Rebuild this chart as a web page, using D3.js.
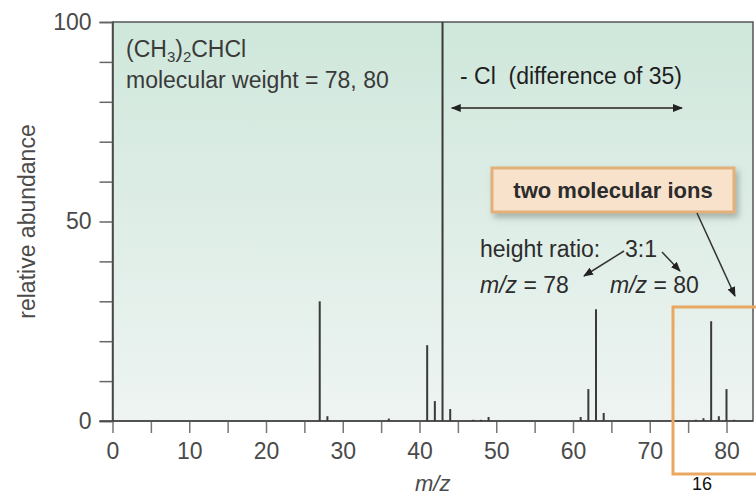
<!DOCTYPE html>
<html>
<head>
<meta charset="utf-8">
<script src="https://cdn.jsdelivr.net/npm/d3@7"></script>
<style>
  body { margin: 0; background: #fff; }
  svg text { font-family: "Liberation Sans", Arial, sans-serif; }
</style>
</head>
<body>
<div id="chart"></div>
<script>
// mass spectrum of 2-chloropropane
const mz        = [27, 28,  36, 41, 42, 43,  44, 47,  48,  49, 61, 62, 63, 64, 76,  77,  78, 79,  80, 81];
const abundance = [30, 1.2, 0.6, 19, 5,  100, 3,  0.3, 0.3, 1,  1,  8,  28, 2,  0.3, 0.7, 25, 1.2, 8,  0.3];

const xTicks = d3.range(0, 81, 5);
const xTickLabels = [0, 10, 20, 30, 40, 50, 60, 70, 80];
const yTicks = d3.range(0, 101, 10);
const yTickLabels = [0, 50, 100];

const width = 756, height = 496;

const svg = d3.select("#chart")
  .append("svg")
  .attr("width", width)
  .attr("height", height);

const x = d3.scaleLinear().domain([0, 80]).range([112.5, 726.5]);
const y = d3.scaleLinear().domain([0, 100]).range([421, 22]);
const plotRight = 753;

const defs = svg.append("defs");
const grad = defs.append("linearGradient")
  .attr("id", "bg").attr("x1", 0).attr("y1", 0).attr("x2", 0).attr("y2", 1);
grad.append("stop").attr("offset", "0%").attr("stop-color", "#cfe7db");
grad.append("stop").attr("offset", "100%").attr("stop-color", "#eef4f2");

defs.append("marker")
  .attr("id", "head").attr("viewBox", "0 0 10 10")
  .attr("refX", 9).attr("refY", 5)
  .attr("markerWidth", 10).attr("markerHeight", 10)
  .attr("markerUnits", "userSpaceOnUse")
  .attr("orient", "auto-start-reverse")
  .append("path").attr("d", "M0,1 L10,5 L0,9 Z").attr("fill", "#222");

const shadow = defs.append("filter").attr("id", "shadow")
  .attr("x", "-10%").attr("y", "-20%").attr("width", "130%").attr("height", "160%");
shadow.append("feDropShadow")
  .attr("dx", 3).attr("dy", 4).attr("stdDeviation", 3)
  .attr("flood-color", "#6d7f78").attr("flood-opacity", 0.55);

// plot background
svg.append("rect")
  .attr("x", x(0)).attr("y", y(100))
  .attr("width", plotRight - x(0)).attr("height", y(0) - y(100))
  .attr("fill", "url(#bg)")
  .attr("stroke", "#555").attr("stroke-width", 1.5);

// Y axis
const yAxis = svg.append("g")
  .attr("transform", `translate(${x(0)},0)`)
  .call(d3.axisLeft(y).tickValues(yTicks).tickSize(13).tickPadding(8)
    .tickFormat(d => yTickLabels.includes(d) ? d : ""));
yAxis.select(".domain").attr("stroke", "#444").attr("stroke-width", 1.5);
yAxis.selectAll(".tick line").attr("stroke", "#666").attr("stroke-width", 1.5);
yAxis.selectAll(".tick text").attr("fill", "#4a4a4a")
  .style("font-size", "23px").style("font-family", "Liberation Sans, Arial, sans-serif");

// X axis
const xAxis = svg.append("g")
  .attr("transform", `translate(0,${y(0)})`)
  .call(d3.axisBottom(x).tickValues(xTicks).tickSize(12).tickPadding(10)
    .tickFormat(d => xTickLabels.includes(d) ? d : ""));
xAxis.select(".domain").remove();
xAxis.selectAll(".tick line").attr("stroke", "#777").attr("stroke-width", 1.5);
xAxis.selectAll(".tick text").attr("fill", "#4a4a4a")
  .style("font-size", "23px").style("font-family", "Liberation Sans, Arial, sans-serif");

svg.append("line")
  .attr("x1", x(0) - 13).attr("x2", plotRight)
  .attr("y1", y(0)).attr("y2", y(0))
  .attr("stroke", "#444").attr("stroke-width", 1.5);

// peaks
svg.append("g").selectAll("line")
  .data(mz)
  .join("line")
  .attr("x1", d => x(d)).attr("x2", d => x(d))
  .attr("y1", y(0))
  .attr("y2", (d, i) => y(abundance[i]))
  .attr("stroke", "#3a3a3a").attr("stroke-width", 2);

// axis titles
svg.append("text")
  .attr("transform", `translate(35,${y(50)}) rotate(-90)`)
  .attr("text-anchor", "middle")
  .attr("fill", "#4a4a4a").style("font-size", "23px")
  .text("relative abundance");

svg.append("text")
  .attr("x", (x(0) + plotRight) / 2).attr("y", 491)
  .attr("text-anchor", "middle")
  .attr("fill", "#4a4a4a").style("font-size", "22px").style("font-style", "italic")
  .text("m/z");

svg.append("text")
  .attr("x", 702).attr("y", 490)
  .attr("text-anchor", "middle")
  .attr("fill", "#111").style("font-size", "18px")
  .text("16");

// compound label
const formula = svg.append("text")
  .attr("x", 126).attr("y", 57)
  .attr("fill", "#3a3a3a").style("font-size", "23px");
formula.append("tspan").text("(CH");
formula.append("tspan").attr("dy", 5).style("font-size", "15px").text("3");
formula.append("tspan").attr("dy", -5).text(")");
formula.append("tspan").attr("dy", 5).style("font-size", "15px").text("2");
formula.append("tspan").attr("dy", -5).text("CHCl");

svg.append("text")
  .attr("x", 126).attr("y", 88)
  .attr("fill", "#3a3a3a").style("font-size", "23px")
  .text("molecular weight = 78, 80");

// loss of Cl
svg.append("text")
  .attr("x", 460).attr("y", 84)
  .attr("fill", "#1e1e1e").style("font-size", "23px")
  .attr("xml:space", "preserve")
  .text("- Cl  (difference of 35)");

svg.append("line")
  .attr("x1", x(44.2)).attr("x2", x(74.2))
  .attr("y1", 108).attr("y2", 108)
  .attr("stroke", "#222").attr("stroke-width", 1.5)
  .attr("marker-start", "url(#head)").attr("marker-end", "url(#head)");

// callout box
svg.append("rect")
  .attr("x", 492).attr("y", 168).attr("width", 242).attr("height", 44)
  .attr("fill", "#f8e2cb").attr("stroke", "#e3b07a").attr("stroke-width", 3)
  .attr("filter", "url(#shadow)");
svg.append("text")
  .attr("x", 613).attr("y", 198)
  .attr("text-anchor", "middle")
  .attr("fill", "#2c2c2c").style("font-size", "22px").style("font-weight", "bold")
  .text("two molecular ions");

svg.append("line")
  .attr("x1", 697).attr("y1", 213).attr("x2", 735).attr("y2", 296)
  .attr("stroke", "#333").attr("stroke-width", 1.5)
  .attr("marker-end", "url(#head)");

// height ratio
svg.append("text")
  .attr("x", 480).attr("y", 257)
  .attr("fill", "#2c2c2c").style("font-size", "23px")
  .text("height ratio:");
svg.append("text")
  .attr("x", 641).attr("y", 257)
  .attr("text-anchor", "middle")
  .attr("fill", "#2c2c2c").style("font-size", "23px")
  .text("3:1");

const mzLabel = (xp, val) => {
  const t = svg.append("text").attr("x", xp).attr("y", 293)
    .attr("fill", "#2c2c2c").style("font-size", "23px");
  t.append("tspan").style("font-style", "italic").text("m/z");
  t.append("tspan").text(" = " + val);
};
mzLabel(480, 78);
mzLabel(610, 80);

svg.append("line")
  .attr("x1", 624).attr("y1", 251).attr("x2", 584).attr("y2", 276)
  .attr("stroke", "#333").attr("stroke-width", 1.5)
  .attr("marker-end", "url(#head)");
svg.append("line")
  .attr("x1", 662).attr("y1", 252).attr("x2", 680).attr("y2", 271)
  .attr("stroke", "#333").attr("stroke-width", 1.5)
  .attr("marker-end", "url(#head)");

// orange frame round the molecular ions
svg.append("rect")
  .attr("x", 673).attr("y", 307).attr("width", 100).attr("height", 167)
  .attr("fill", "none").attr("stroke", "#e8a862").attr("stroke-width", 3);
</script>
</body>
</html>
